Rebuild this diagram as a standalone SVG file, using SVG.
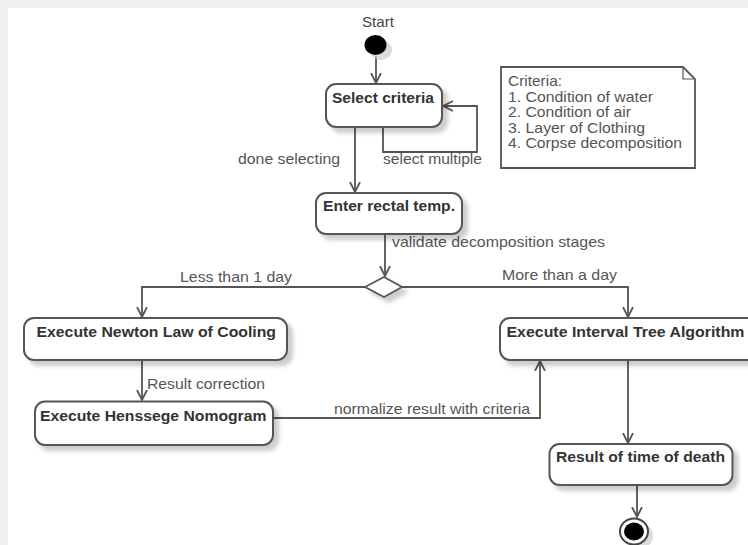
<svg xmlns="http://www.w3.org/2000/svg" width="748" height="545" viewBox="0 0 748 545">
<style>
.box{fill:#fff;stroke:#555;stroke-width:2;filter:url(#sh)}
.t{font-family:"Liberation Sans",Arial,sans-serif;font-size:15px;font-weight:bold;fill:#333}
.l{font-family:"Liberation Sans",Arial,sans-serif;font-size:14.5px;fill:#555}
.n{font-family:"Liberation Sans",Arial,sans-serif;font-size:14.5px;fill:#555}
.c{fill:none;stroke:#555;stroke-width:1.8}
</style>
<defs>
<filter id="sh" x="-10%" y="-20%" width="130%" height="160%">
<feGaussianBlur in="SourceAlpha" stdDeviation="2"/>
<feOffset dx="5" dy="5" result="b"/>
<feFlood flood-color="#000" flood-opacity="0.2"/>
<feComposite in2="b" operator="in"/>
<feMerge><feMergeNode/><feMergeNode in="SourceGraphic"/></feMerge>
</filter>
<marker id="ar" markerWidth="12" markerHeight="12" refX="10" refY="5" orient="auto" markerUnits="userSpaceOnUse" viewBox="0 0 12 10">
<path d="M0,0 L10,5 L0,10" fill="none" stroke="#555" stroke-width="1.8"/>
</marker>
</defs>
<rect width="748" height="545" fill="#fff"/>
<rect width="748" height="8" fill="#eef0f2"/>
<rect width="8" height="545" fill="#eef0f2"/>

<g id="connectors">
<path class="c" d="M376,56 V83" marker-end="url(#ar)"/>
<path class="c" d="M383,127 V152 H477 V106 H443" marker-end="url(#ar)"/>
<path class="c" d="M355,127 V192" marker-end="url(#ar)"/>
<path class="c" d="M385,234 V276" marker-end="url(#ar)"/>
<path class="c" d="M365,287 H142 V317" marker-end="url(#ar)"/>
<path class="c" d="M402,287 H628 V317" marker-end="url(#ar)"/>
<path class="c" d="M142,360 V400" marker-end="url(#ar)"/>
<path class="c" d="M273,418 H540 V361" marker-end="url(#ar)"/>
<path class="c" d="M628,360 V443" marker-end="url(#ar)"/>
<path class="c" d="M637,485 V517" marker-end="url(#ar)"/>
<text class="l" x="238" y="164" textLength="102" lengthAdjust="spacingAndGlyphs">done selecting</text>
<text class="l" x="383" y="164" textLength="99" lengthAdjust="spacingAndGlyphs">select multiple</text>
<text class="l" x="392" y="247" textLength="213" lengthAdjust="spacingAndGlyphs">validate decomposition stages</text>
<text class="l" x="180" y="282" textLength="112" lengthAdjust="spacingAndGlyphs">Less than 1 day</text>
<text class="l" x="502" y="280" textLength="115" lengthAdjust="spacingAndGlyphs">More than a day</text>
<text class="l" x="147" y="389" textLength="118" lengthAdjust="spacingAndGlyphs">Result correction</text>
<text class="l" x="334" y="414" textLength="196" lengthAdjust="spacingAndGlyphs">normalize result with criteria</text>
</g>

<g id="start">
<text class="l" x="362" y="27" textLength="32" lengthAdjust="spacingAndGlyphs" style="fill:#444">Start</text>
<ellipse cx="381" cy="50" rx="11" ry="10" fill="#ccc" opacity="0.7"/>
<ellipse cx="375.5" cy="45" rx="11" ry="10" fill="#000"/>
</g>

<g id="select-criteria">
<rect class="box" x="326" y="84" width="116" height="43" rx="10"/>
<text class="t" x="332" y="102.5" textLength="102" lengthAdjust="spacingAndGlyphs">Select criteria</text>
</g>

<g id="note">
<path d="M501,67 H683 L695,79 V168 H501 Z" fill="#fff" stroke="#555" stroke-width="1.8"/>
<path d="M683,67 V79 H695" fill="none" stroke="#555" stroke-width="1.2"/>
<text class="n" x="508" y="86" textLength="54" lengthAdjust="spacingAndGlyphs">Criteria:</text>
<text class="n" x="508" y="101.5" textLength="145" lengthAdjust="spacingAndGlyphs">1. Condition of water</text>
<text class="n" x="508" y="117" textLength="123" lengthAdjust="spacingAndGlyphs">2. Condition of air</text>
<text class="n" x="508" y="132.5" textLength="137" lengthAdjust="spacingAndGlyphs">3. Layer of Clothing</text>
<text class="n" x="508" y="148" textLength="174" lengthAdjust="spacingAndGlyphs">4. Corpse decomposition</text>
</g>

<g id="enter-rectal-temp">
<rect class="box" x="316" y="193" width="146" height="41" rx="10"/>
<text class="t" x="323" y="211" textLength="132" lengthAdjust="spacingAndGlyphs">Enter rectal temp.</text>
</g>

<g id="decision">
<path d="M365,287 L384,277 L402,287 L384,297 Z" fill="#fff" stroke="#555" stroke-width="1.8" filter="url(#sh)"/>
</g>

<g id="newton">
<rect class="box" x="24" y="318" width="263" height="42" rx="10"/>
<text class="t" x="36.5" y="337" textLength="239.5" lengthAdjust="spacingAndGlyphs">Execute Newton Law of Cooling</text>
</g>

<g id="henssege">
<rect class="box" x="35" y="401.5" width="238" height="43.5" rx="10"/>
<text class="t" x="40" y="421" textLength="226.5" lengthAdjust="spacingAndGlyphs">Execute Henssege Nomogram</text>
</g>

<g id="interval-tree">
<rect class="box" x="500" y="318" width="270" height="42" rx="10"/>
<text class="t" x="506.5" y="336.5" textLength="238" lengthAdjust="spacingAndGlyphs">Execute Interval Tree Algorithm</text>
</g>

<g id="result">
<rect class="box" x="549.5" y="444" width="183" height="41" rx="10"/>
<text class="t" x="556" y="462" textLength="169" lengthAdjust="spacingAndGlyphs">Result of time of death</text>
</g>

<g id="end">
<ellipse cx="639" cy="536" rx="14" ry="13" fill="#ccc" opacity="0.7"/>
<ellipse cx="634" cy="531.5" rx="14" ry="13" fill="#fff" stroke="#444" stroke-width="2"/>
<ellipse cx="634" cy="531.5" rx="10" ry="9" fill="#000"/>
</g>
</svg>
